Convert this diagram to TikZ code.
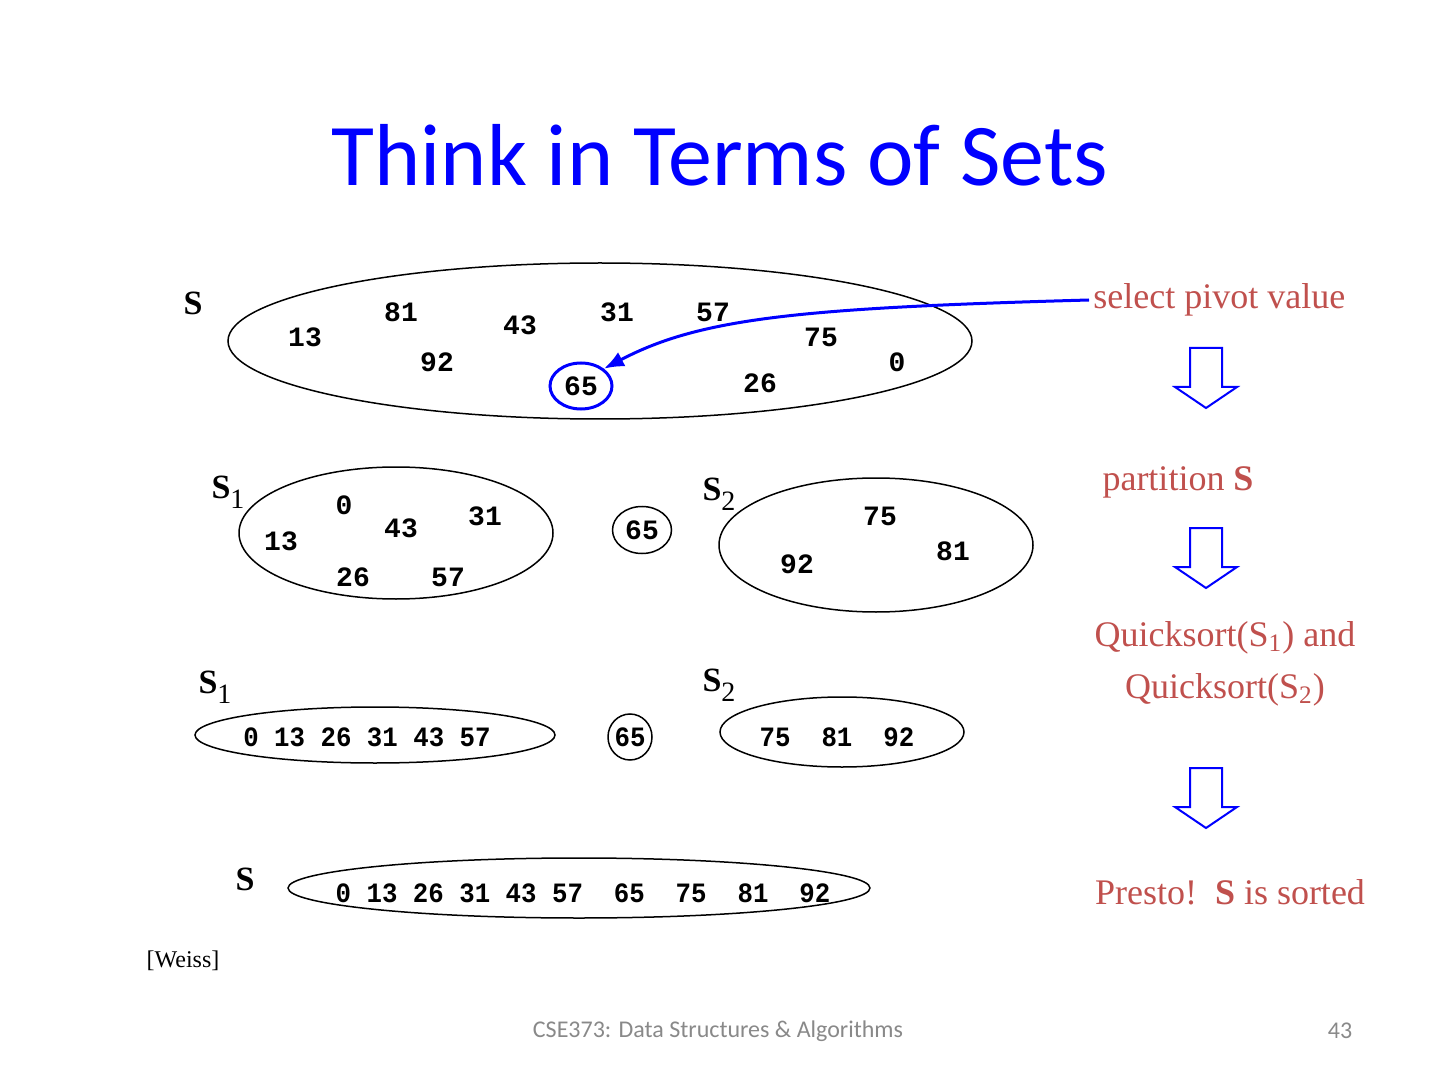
\documentclass[tikz,border=0pt]{standalone}
\usepackage{fontspec}
\setmainfont{Liberation Serif}
\newfontfamily\calibri{Carlito}
\newfontfamily\mono{Liberation Mono}
\newfontfamily\monorow[FakeStretch=0.92]{Liberation Mono}
\usetikzlibrary{arrows.meta,shapes.geometric}

\definecolor{titleblue}{RGB}{0,0,255}
\definecolor{noteRed}{RGB}{192,80,77}
\definecolor{footgray}{RGB}{137,137,137}
\newcommand\subS[1]{\textbf{S}\raisebox{-5pt}{\fontsize{14}{16}\selectfont #1}}

\tikzset{
  num/.style={font=\mono\bfseries\fontsize{14}{16}\selectfont, inner sep=0pt},
  numrow/.style={font=\monorow\bfseries\fontsize{14}{16}\selectfont, inner sep=0pt},
  setline/.style={black, line width=0.75pt},
  setlabel/.style={font=\fontsize{17}{20}\selectfont, inner sep=0pt},
  note/.style={font=\fontsize{18}{26}\selectfont, text=noteRed, inner sep=2pt, align=center},
  blockarrow/.style={draw=blue, fill=white, line width=1pt, line join=miter},
}

\begin{document}
\begin{tikzpicture}[x=0.5pt, y=-0.5pt]
  \fill[white] (0,0) rectangle (1440,1080);
  \useasboundingbox (0,0) rectangle (1440,1080);

  \node[font=\calibri\fontsize{44}{53}\selectfont, text=titleblue] (title) at (720,155) {Think in Terms of Sets};

  % S: the unsorted set
  \node[setlabel] (lblS) at (193,303) {\textbf{S}};
  \draw[setline] (600,341) ellipse [x radius=372, y radius=78];
  \foreach \v/\x/\y in {81/401/312, 31/617/312, 57/713/312, 43/520/325, 13/305/337,
                        75/821/337, 92/437/362, 0/897/362, 26/760/383}
    \node[num] (s\v) at (\x,\y) {\v};
  \node[num, ellipse, draw=blue, line width=1.5pt, minimum width=31pt, minimum height=23pt] (pivot) at (581,386) {65};

  % pick the pivot
  \node[note, anchor=west] (spv) at (1089,300) {select pivot value};
  \draw[blue, line width=1.5pt, -{Latex[length=10pt,width=8pt]}] (spv.west) .. controls (800,308) and (700,318) .. (pivot.north east);

  % down arrows
  \foreach \t in {348,528,768}
    \draw[blockarrow] (1190,\t) -- (1222,\t) -- (1222,\t+39) -- (1237,\t+39) -- (1206,\t+60)
                      -- (1175,\t+39) -- (1190,\t+39) -- cycle;

  % partition
  \node[note] (part) at (1178,482) {partition \textbf{S}};
  \node[setlabel] (lblA) at (228,492) {\subS{1}};
  \draw[setline] (396,533) ellipse [x radius=157, y radius=66];
  \foreach \v/\x/\y in {0/344/505, 31/485/516, 43/401/528, 13/281/541, 26/353/577, 57/448/577}
    \node[num] (a\v) at (\x,\y) {\v};
  \node[num, ellipse, draw, line width=0.75pt, minimum width=29.5pt, minimum height=23.5pt] (mid) at (642,530) {65};
  \node[setlabel] (lblB) at (719,494) {\subS{2}};
  \draw[setline] (876,545) ellipse [x radius=157, y radius=67];
  \foreach \v/\x/\y in {75/880/516, 81/953/551, 92/797/564}
    \node[num] (b\v) at (\x,\y) {\v};

  % recursive sorts
  \node[note] (qs) at (1225,664) {Quicksort(S\textsubscript{1}) and\\Quicksort(S\textsubscript{2})};
  \node[setlabel] (lblA2) at (215,687) {\subS{1}};
  \draw[setline] (375,735) ellipse [x radius=180, y radius=28];
  \node[numrow] (sortA) at (367,737) {0~13~26~31~43~57};
  \node[numrow, ellipse, draw, line width=0.75pt, minimum width=22pt, minimum height=23pt] (mid2) at (630,737) {65};
  \node[setlabel] (lblB2) at (719,685) {\subS{2}};
  \draw[setline] (842,732) ellipse [x radius=122, y radius=35];
  \node[numrow] (sortB) at (837,737) {75~~81~~92};

  % done
  \node[setlabel] (lblS2) at (245,879) {\textbf{S}};
  \draw[setline] (579,888) ellipse [x radius=291, y radius=30];
  \node[numrow] (sorted) at (583,893) {0~13~26~31~43~57~~65~~75~~81~~92};
  \node[note] (presto) at (1230,892) {Presto!\ \ \textbf{S} is sorted};

  \node[font=\fontsize{12}{14}\selectfont] (cite) at (183,961) {[Weiss]};
  \node[font=\calibri\fontsize{12}{14}\selectfont, text=footgray] (foot) at (718,1031) {CSE373: Data Structures \& Algorithms};
  \node[font=\calibri\fontsize{12}{14}\selectfont, text=footgray] (page) at (1340,1031) {43};
\end{tikzpicture}
\end{document}
